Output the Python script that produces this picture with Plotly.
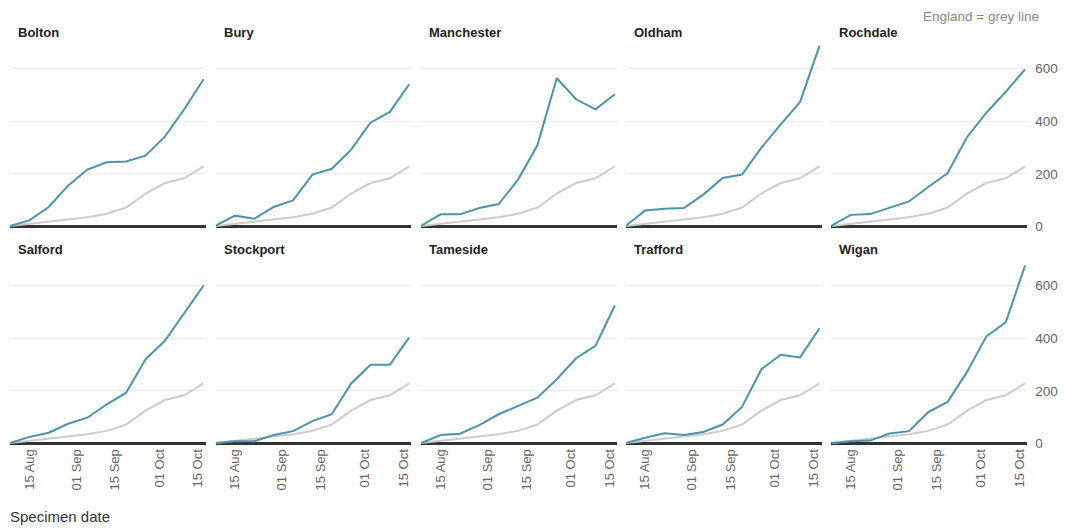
import plotly.graph_objects as go

dates = ["2020-08-08", "2020-08-15", "2020-08-22", "2020-08-29", "2020-09-05",
         "2020-09-12", "2020-09-19", "2020-09-26", "2020-10-03", "2020-10-10",
         "2020-10-17"]

england = [2, 10, 18, 28, 35, 48, 72, 125, 165, 183, 228]

areas = ["Bolton", "Bury", "Manchester", "Oldham", "Rochdale",
         "Salford", "Stockport", "Tameside", "Trafford", "Wigan"]

bolton = [2, 23, 74, 155, 216, 244, 247, 269, 341, 445, 559]
bury = [3, 41, 29, 74, 99, 197, 219, 292, 394, 435, 540]
manchester = [3, 46, 46, 70, 85, 178, 308, 563, 483, 445, 502]
oldham = [3, 61, 67, 70, 121, 184, 197, 299, 388, 473, 686]
rochdale = [3, 44, 47, 72, 95, 150, 203, 339, 432, 511, 597]
salford = [2, 25, 41, 75, 98, 149, 193, 320, 390, 494, 600]
stockport = [2, 9, 9, 32, 47, 85, 111, 228, 299, 299, 403]
tameside = [2, 32, 37, 70, 111, 142, 174, 244, 324, 371, 524]
trafford = [2, 22, 39, 32, 44, 72, 139, 282, 337, 327, 438]
wigan = [2, 9, 11, 38, 47, 119, 158, 272, 407, 460, 676]

series = [bolton, bury, manchester, oldham, rochdale,
          salford, stockport, tameside, trafford, wigan]

xtick_vals = ["2020-08-15", "2020-09-01", "2020-09-15", "2020-10-01", "2020-10-15"]
xtick_text = ["15 Aug", "01 Sep", "15 Sep", "01 Oct", "15 Oct"]
ytick_vals = [0, 200, 400, 600]

OFF = 8          # body margin of the page
KY = 0.987       # observed vertical factor of the photographed page
W, H = 1050, 525
BLUE = "#4d93ab"
GREY = "#cccccc"
FONT = "Liberation Sans, Arial, sans-serif"


def px(x):
    return (x - OFF) / W


def fy(y):
    return y / KY - OFF


def py(y):
    return 1 - fy(y) / H


fig = go.Figure()
layout = dict(
    width=W, height=H,
    margin=dict(l=0, r=0, t=0, b=0),
    paper_bgcolor="white", plot_bgcolor="white",
    showlegend=False,
    font=dict(family=FONT, size=13, color="#666666"),
)

annotations = []
col_left = [10, 217, 424, 630, 837]
pw = 197
YMIN, YMAX = -8, 715
zero_ref = [226.0, 442.7]
six_ref = [68.3, 285.0]
title_y = [32, 249]

for i, (name, vals) in enumerate(zip(areas, series)):
    r, c = divmod(i, 5)
    idx = i + 1
    xa = "x" if idx == 1 else f"x{idx}"
    ya = "y" if idx == 1 else f"y{idx}"
    z = fy(zero_ref[r])
    s = (z - fy(six_ref[r])) / 600.0
    bottom = z - YMIN * s
    top = z - YMAX * s
    fig.add_trace(go.Scatter(x=dates, y=england, mode="lines",
                             line=dict(color=GREY, width=2),
                             xaxis=xa, yaxis=ya, hoverinfo="skip"))
    fig.add_trace(go.Scatter(x=dates, y=vals, mode="lines",
                             line=dict(color=BLUE, width=2),
                             xaxis=xa, yaxis=ya, name=name))
    layout["xaxis" if idx == 1 else f"xaxis{idx}"] = dict(
        domain=[px(col_left[c]), px(col_left[c] + pw)], anchor=ya, type="date",
        range=["2020-08-08", "2020-10-17 18:00"],
        tickvals=xtick_vals, ticktext=xtick_text, tickangle=-90,
        showticklabels=(r == 1), showgrid=False, zeroline=False,
        showline=False, ticks="",
        tickfont=dict(family=FONT, size=13, color="#666666"),
    )
    layout["yaxis" if idx == 1 else f"yaxis{idx}"] = dict(
        domain=[1 - bottom / H, 1 - top / H], anchor=xa, range=[YMIN, YMAX],
        tickvals=ytick_vals, showticklabels=(c == 4), side="right",
        showgrid=True, gridcolor="#ececec", gridwidth=1,
        zeroline=True, zerolinecolor="#333333", zerolinewidth=3,
        showline=False, ticks="", ticklabelstandoff=7,
        tickfont=dict(family=FONT, size=13.5, color="#666666"),
    )
    annotations.append(dict(
        text=f"<b>{name}</b>", x=px(col_left[c] + 6), y=py(title_y[r]),
        xref="paper", yref="paper", xanchor="left", yanchor="middle",
        showarrow=False, font=dict(family=FONT, size=13, color="#222222")))

annotations.append(dict(
    text="England = grey line", x=px(1047), y=1.0, borderpad=0,
    xref="paper", yref="paper", xanchor="right", yanchor="top",
    showarrow=False, font=dict(family=FONT, size=13.5, color="#888888")))
annotations.append(dict(
    text="Specimen date", x=px(8), y=py(516),
    xref="paper", yref="paper", xanchor="left", yanchor="middle",
    showarrow=False, font=dict(family=FONT, size=15, color="#333333")))

layout["annotations"] = annotations
fig.update_layout(**layout)
fig.write_html("out.html")
